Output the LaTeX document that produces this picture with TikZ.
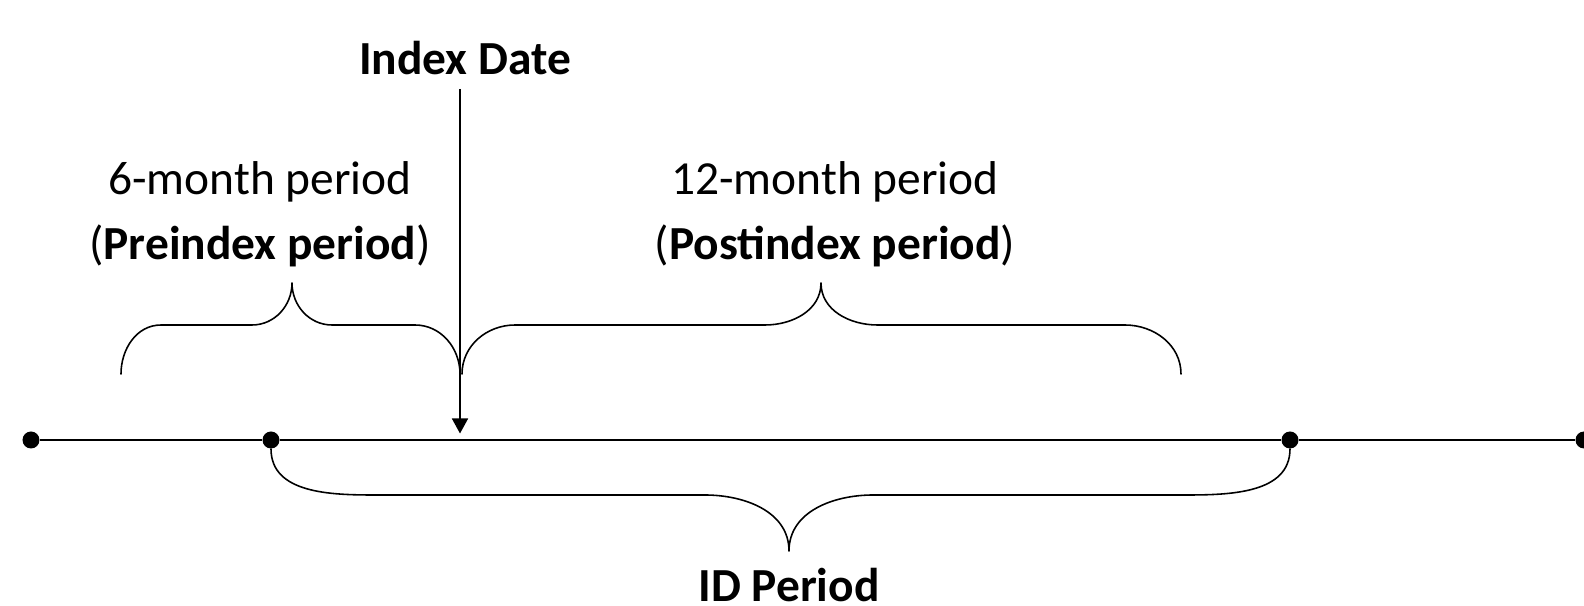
\documentclass[tikz,border=0pt]{standalone}
\usepackage{fontspec}
\setmainfont{Carlito}
\usepackage{tikz}
\usetikzlibrary{arrows.meta}
\tikzset{
  base/.style={draw=black, line width=0.9pt, line cap=round, line join=round},
  axis/.style={draw=black, line width=1.1pt},
  arr/.style={draw=black, line width=0.9pt, -{Triangle[length=0.3cm,width=0.32cm]}},
  dot/.style={circle, fill=black, inner sep=0pt, minimum size=0.34cm},
  lab/.style={text=black, font=\fontsize{27}{37}\selectfont, align=center},
}
\begin{document}
\begin{tikzpicture}
  \useasboundingbox (0,0) rectangle (31.68,12.12);
  % time line
  \node[dot] (t0) at (0.62,3.32) {};
  \node[dot] (t1) at (5.42,3.32) {};
  \node[dot] (t2) at (25.8,3.32) {};
  \node[dot] (t3) at (31.68,3.32) {};
  \draw[axis] (t0) -- (t1) -- (t2) -- (t3);
  % index date
  \node[lab] (idate) at (9.3,10.96) {\textbf{Index Date}};
  \coordinate (atop) at (9.2,10.34);
  \coordinate (atip) at (9.2,3.45);
  \draw[arr] (atop) -- (atip);
  % preindex brace
  \def\yb{4.64} \def\yt{5.62} \def\yc{6.46}
  \draw[base] (2.42,\yb) to[out=90,in=180] (3.22,\yt) -- (5.04,\yt)
    to[out=0,in=-90] (5.84,\yc) to[out=-90,in=180] (6.64,\yt) -- (8.3,\yt)
    to[out=0,in=90] (9.2,\yb);
  \node[lab] (pre) at (5.2,7.83) {6-month period\\(\textbf{Preindex period})};
  % postindex brace
  \draw[base] (9.24,\yb) to[out=90,in=180] (10.3,\yt) -- (15.3,\yt)
    to[out=0,in=-90] (16.42,\yc) to[out=-90,in=180] (17.55,\yt) -- (22.5,\yt)
    to[out=0,in=90] (23.62,\yb);
  \node[lab] (post) at (16.7,7.83) {12-month period\\(\textbf{Postindex period})};
  % id period brace
  \draw[base] (t1) to[out=-90,in=180] (7.5,2.22) -- (14.1,2.22)
    to[out=0,in=90] (15.78,1.1) to[out=90,in=180] (17.46,2.22) -- (23.7,2.22)
    to[out=0,in=-90] (t2);
  \node[lab, inner sep=0pt, text depth=0pt, anchor=base] (idp) at (15.78,0.08) {\textbf{ID Period}};
\end{tikzpicture}
\end{document}
